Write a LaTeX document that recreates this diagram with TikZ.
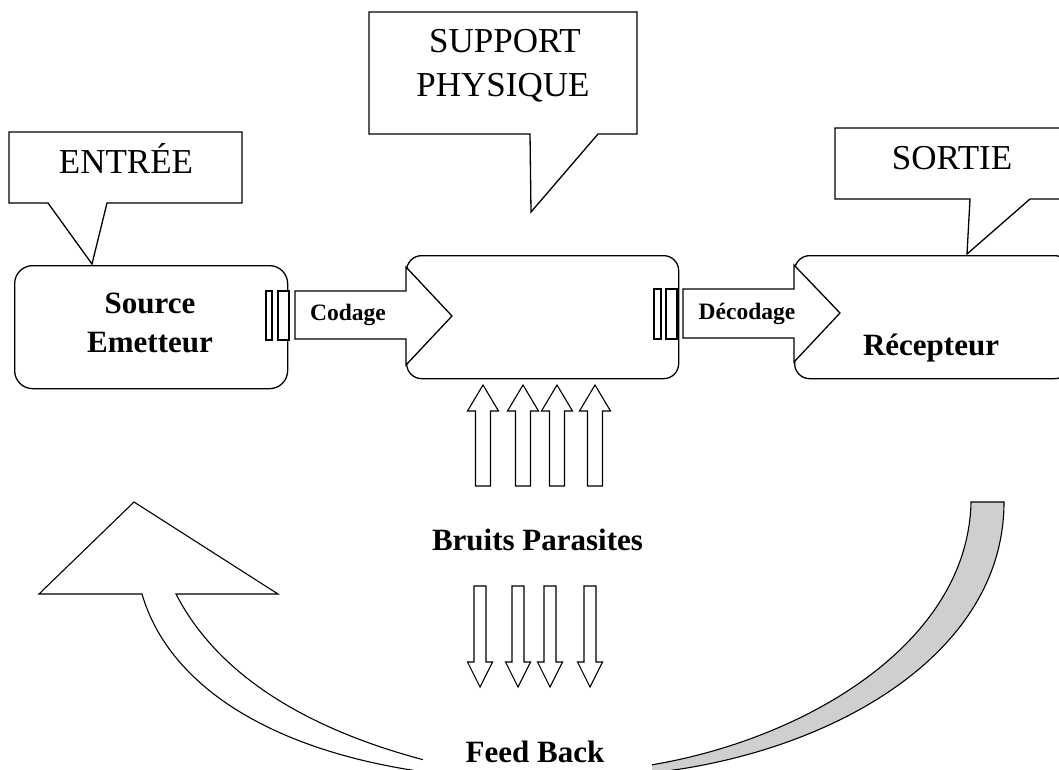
\documentclass[tikz,border=0pt]{standalone}
\usepackage{fontspec}
\setmainfont{Liberation Serif}
\begin{document}
\begin{tikzpicture}[x=1pt,y=-1pt,line width=1.3pt,line join=miter,
  rbox/.style={draw,fill=white,rectangle,inner sep=0pt,anchor=north west},
  callout/.style={draw,fill=white},
  blockarrow/.style={draw,fill=white},
  pin/.style={draw,fill=white,line width=1.1pt},
  noise/.style={draw,fill=white,line width=1.1pt},
  bigtxt/.style={font=\bfseries\fontsize{31}{39}\selectfont,anchor=base,inner sep=0pt},
  smalltxt/.style={font=\bfseries\fontsize{23.5}{28}\selectfont,anchor=base,inner sep=0pt},
  titletxt/.style={font=\fontsize{35}{45}\selectfont,anchor=base,inner sep=0pt}]
\useasboundingbox (0,0) rectangle (1059,770);
\clip (0,0) rectangle (1059,770);

% main boxes
\node[rbox,rounded corners=18pt,minimum width=273pt,minimum height=123pt] (src) at (14,265) {};
\node[rbox,rounded corners=15pt,minimum width=272pt,minimum height=123pt] (sup) at (406,255) {};
\node[rbox,rounded corners=15pt,minimum width=275pt,minimum height=123pt] (rec) at (794,255) {};

% callouts
\draw[callout] (9,132) -- (242,132) -- (242,203) -- (107,203) -- (92,264) -- (48,203) -- (9,203) -- cycle;
\draw[callout] (369,12) -- (637,12) -- (637,134) -- (598,134) -- (531,212) -- (530,134) -- (369,134) -- cycle;
\draw[callout] (835,128) -- (1075,128) -- (1075,199) -- (1030,199) -- (967,254) -- (970,199) -- (835,199) -- cycle;
\node[titletxt] (entree) at (126,174) {ENTRÉE};
\node[titletxt] (support) at (505,53) {SUPPORT};
\node[titletxt] (physique) at (503,97) {PHYSIQUE};
\node[titletxt] (sortie) at (952,170) {SORTIE};

% connector pins
\draw[pin] (266,291) rectangle (272,340);
\draw[pin] (278,291) rectangle (289,340);
\draw[pin] (654,289) rectangle (661,339);
\draw[pin] (666,289) rectangle (677,339);

% block arrows
\draw[blockarrow] (295,291) -- (406,291) -- (406,267) -- (452,316) -- (406,365) -- (406,339) -- (295,339) -- cycle;
\draw[blockarrow] (683,289) -- (794,289) -- (794,265) -- (840,313) -- (794,362) -- (794,338) -- (683,338) -- cycle;
\node[smalltxt] (codage) at (348,320) {Codage};
\node[smalltxt] (decodage) at (747,319) {Décodage};

% box texts
\node[bigtxt] (source) at (150,313) {Source};
\node[bigtxt] (emetteur) at (150,352) {Emetteur};
\node[bigtxt] (recepteur) at (931,355) {Récepteur};

% noise arrows up
\foreach \c in {483,523,557,595}{
  \draw[noise] (\c-7.5,486) -- (\c-7.5,411) -- (\c-15.5,411) -- (\c,385) -- (\c+15.5,411) -- (\c+7.5,411) -- (\c+7.5,486) -- cycle;
}
\node[bigtxt] (bruits) at (537.5,550) {Bruits Parasites};
% noise arrows down
\foreach \c in {480,518,550,590}{
  \draw[noise] (\c-6,586) -- (\c-6,662) -- (\c-12.5,662) -- (\c,687) -- (\c+12.5,662) -- (\c+6,662) -- (\c+6,586) -- cycle;
}

% feedback curved arrows
\draw[fill=black!19,line width=1.1pt] (971,502) -- (1004,502)
  .. controls (1004,660) and (820,758) .. (640,774)
  -- (630,768)
  .. controls (790,748) and (968,650) .. (971,502) -- cycle;
\draw[fill=white,line width=1.1pt] (134,502) -- (278,594) -- (176,594)
  .. controls (215,670) and (300,730) .. (440,764)
  -- (440,774)
  .. controls (280,755) and (170,690) .. (142,594)
  -- (39,594) -- cycle;

\node[fill=white,minimum width=229pt,minimum height=32pt,inner sep=0pt] (fbbox) at (537.5,757) {};
\node[bigtxt] (feedback) at (535,762) {Feed Back};
\end{tikzpicture}
\end{document}
